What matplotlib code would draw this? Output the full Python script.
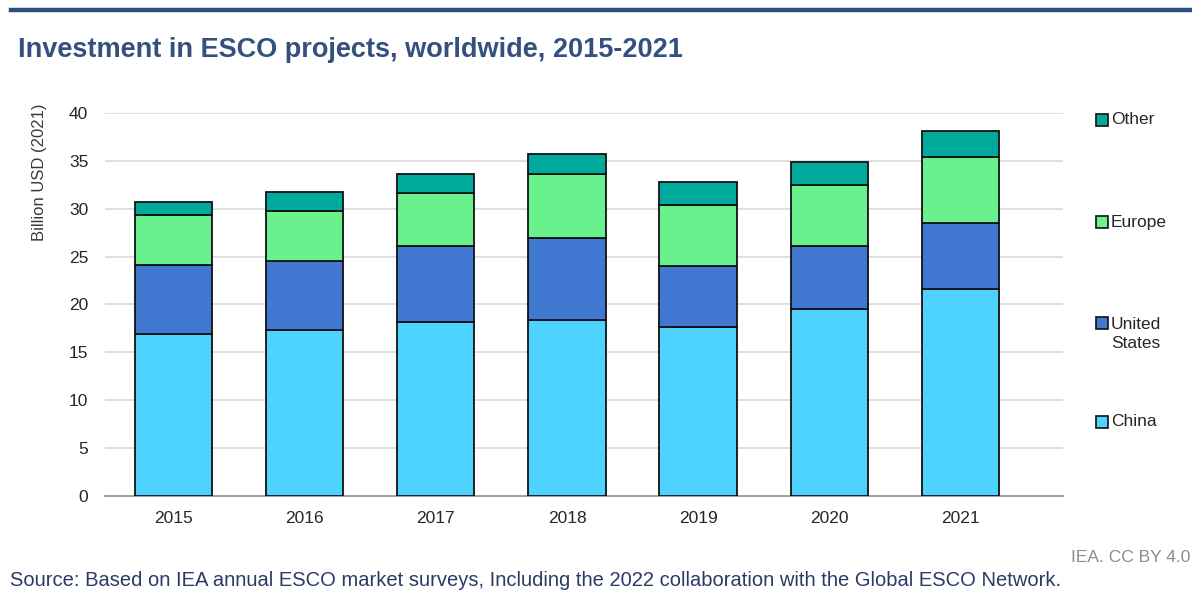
import matplotlib
matplotlib.use("Agg")
import matplotlib.pyplot as plt
import numpy as np
from matplotlib.lines import Line2D

plt.rcParams['font.family'] = ['Liberation Sans', 'DejaVu Sans']

years = ["2015", "2016", "2017", "2018", "2019", "2020", "2021"]
china = [16.9, 17.35, 18.15, 18.4, 17.6, 19.5, 21.6]
united_states = [7.2, 7.15, 7.95, 8.6, 6.4, 6.6, 6.95]
europe = [5.3, 5.3, 5.6, 6.6, 6.4, 6.4, 6.85]
other = [1.3, 2.0, 1.9, 2.1, 2.4, 2.4, 2.7]

series = [
    ("China", china, "#4dd3fd"),
    ("United\nStates", united_states, "#4178d2"),
    ("Europe", europe, "#69f18e"),
    ("Other", other, "#00aa9c"),
]

W, H = 1192, 606
fig = plt.figure(figsize=(W / 100, H / 100), dpi=100)
fig.patch.set_facecolor("white")

ax = fig.add_axes([105 / W, 1 - 495.5 / H, (1063 - 105) / W, (495.5 - 113.3) / H])
x = np.arange(len(years))
bottom = np.zeros(len(years))
for name, vals, col in series:
    ax.bar(x, vals, bottom=bottom, width=0.59, color=col, edgecolor="#111111",
           linewidth=1.3, zorder=3)
    bottom += np.array(vals)

ax.set_ylim(0, 40)
ax.set_xlim(-0.52, 6.78)
ax.set_yticks(range(0, 41, 5))
ax.set_xticks(x)
ax.set_xticklabels(years)
ax.yaxis.grid(True, color="#d9d9d9", linewidth=1.2, zorder=0)
for s in ["top", "right", "left"]:
    ax.spines[s].set_visible(False)
ax.spines["bottom"].set_color("#a6a6a6")
ax.spines["bottom"].set_linewidth(1.5)
ax.tick_params(axis="both", length=0, labelsize=12.5, colors="#262626")
ax.tick_params(axis="x", pad=11)
ax.tick_params(axis="y", pad=12)

# Y-axis label near top-left
fig.text(40 / W, 1 - 172 / H, "Billion USD (2021)", rotation=90, fontsize=12,
         color="#3a3a3a", ha="center", va="center")

# Legend entries placed beside the bars
legend_items = [("Other", "#00aa9c", 120), ("Europe", "#69f18e", 222),
                ("United\nStates", "#4178d2", 334), ("China", "#4dd3fd", 422)]
for label, col, ypix in legend_items:
    yy = 1 - ypix / H
    if "\n" in label:
        yy_marker = 1 - 323 / H
        fig.text(1111 / W, yy, label, fontsize=12.5, color="#262626",
                 ha="left", va="center", linespacing=1.4)
    else:
        yy_marker = yy
        fig.text(1111 / W, yy, label, fontsize=12.5, color="#262626",
                 ha="left", va="center")
    fig.add_artist(Line2D([1102 / W], [yy_marker], marker="s", markersize=8,
                          markerfacecolor=col, markeredgecolor="#111111",
                          markeredgewidth=1.2, linestyle="none",
                          transform=fig.transFigure))

# Top rule
fig.add_artist(Line2D([11 / W, 1.0], [1 - 10 / H, 1 - 10 / H], color="#2e4e7e",
                      linewidth=3.2, transform=fig.transFigure))

fig.text(18 / W, 1 - 50 / H, "Investment in ESCO projects, worldwide, 2015-2021",
         fontsize=19.5, fontweight="bold", color="#34507e", ha="left", va="center")

fig.text(1190 / W, 1 - 557 / H, "IEA. CC BY 4.0", fontsize=12.5,
         color="#8c8c8c", ha="right", va="center")
fig.text(10 / W, 1 - 580 / H,
         "Source: Based on IEA annual ESCO market surveys, Including the 2022 collaboration with the Global ESCO Network.",
         fontsize=14.5, color="#2b3a67", ha="left", va="center")

fig.savefig("out.png", dpi=100, facecolor="white")
